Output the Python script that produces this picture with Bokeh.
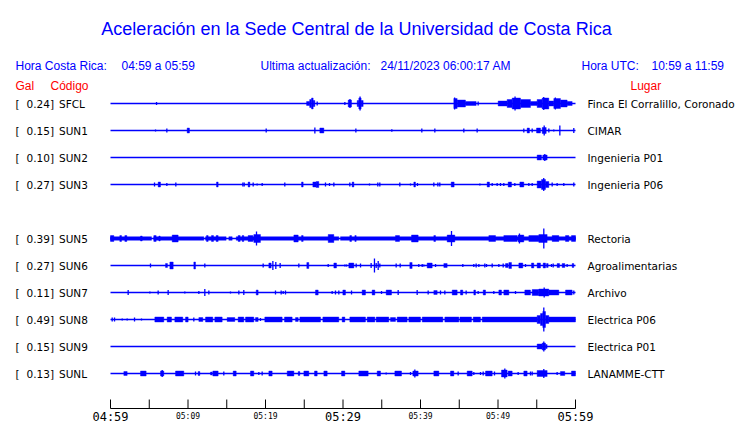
from bokeh.plotting import figure
from bokeh.models import Range1d
from bokeh.embed import file_html
from bokeh.resources import INLINE
from bokeh.core.properties import value

# ---------------- data ----------------
title_text = "Aceleración en la Sede Central de la Universidad de Costa Rica"
codes = ["SFCL", "SUN1", "SUN2", "SUN3", "SUN5", "SUN6", "SUN7", "SUN8", "SUN9", "SUNL"]
gal = [0.24, 0.15, 0.10, 0.27, 0.39, 0.27, 0.11, 0.49, 0.15, 0.13]
places = ["Finca El Corralillo, Coronado", "CIMAR", "Ingenieria P01", "Ingenieria P06",
          "Rectoria", "Agroalimentarias", "Archivo", "Electrica P06", "Electrica P01", "LANAMME-CTT"]

# time axis (minutes after 04:59 local time)
all_ticks = [0, 5, 10, 15, 20, 25, 30, 35, 40, 45, 50, 55, 60]
big_ticks = [0, 30, 60]
big_labels = ["04:59", "05:29", "05:59"]
small_ticks = [10, 20, 40, 50]
small_labels = ["05:09", "05:19", "05:39", "05:49"]

# bursts per station: (start minute, end minute, relative half amplitude); start==end -> spike
sfcl = [(5.94, 5.94, 1.5),
        (25.3, 25.7, 2), (25.7, 25.94, 4), (25.94, 26.15, 5.5), (26.15, 26.37, 3), (26.67, 26.67, 2),
        (30.24, 30.24, 1.5), (30.67, 31.1, 3.5), (30.9, 30.9, 4.5),
        (31.83, 32.04, 3), (32.04, 32.34, 5.5), (32.2, 32.2, 7), (32.34, 32.6, 3),
        (44.3, 44.73, 5), (44.4, 44.4, 6), (44.73, 45.8, 3.5), (45.8, 47.18, 2), (47.44, 47.44, 2),
        (50.02, 51.18, 2.5), (51.18, 51.83, 4), (51.83, 52.9, 5.5), (52.2, 52.2, 7), (52.9, 54.19, 4),
        (54.19, 55.05, 2), (55.05, 55.7, 4), (55.7, 56.56, 5.5), (55.9, 55.9, 6.5), (56.56, 57.2, 2.5),
        (57.2, 58.06, 5), (57.4, 57.4, 6), (58.06, 58.92, 3.5), (58.92, 59.57, 2)]
sun1 = [(5.81, 5.81, 1), (7.27, 7.27, 2), (9.89, 10.19, 2.5), (20.09, 20.09, 2), (26.37, 26.37, 3),
        (27.01, 27.53, 2.5), (31.66, 31.66, 2), (36.3, 36.3, 1.2), (40.17, 40.17, 2), (41.85, 41.85, 2),
        (45.59, 45.59, 2), (47.31, 47.31, 2), (53.33, 53.33, 2), (53.76, 54.06, 2.5), (54.41, 54.41, 2),
        (54.97, 55.48, 2.5), (55.7, 56.22, 3), (55.96, 55.96, 5), (56.56, 56.56, 2), (57.2, 57.2, 1),
        (57.98, 57.98, 5), (59.78, 59.78, 2.5)]
sun2 = [(55.05, 55.61, 2.5), (55.78, 56.34, 2.5), (56.04, 56.04, 3.5)]
sun3 = [(5.68, 5.68, 2), (6.15, 6.45, 2.5), (7.27, 7.27, 1.5), (8.43, 8.43, 2), (13.68, 13.89, 2.5),
        (17.08, 17.08, 2), (17.25, 17.25, 2), (17.76, 17.98, 2.5), (18.41, 18.41, 2), (18.92, 18.92, 1),
        (19.57, 19.57, 1.5), (22.49, 22.49, 2), (24.65, 24.86, 2.5), (26.11, 26.54, 2.5), (26.54, 26.88, 3),
        (27.74, 27.74, 2), (28.26, 28.26, 1.5), (28.82, 28.82, 2), (30.88, 30.88, 2), (31.18, 31.4, 2.5),
        (33.42, 33.42, 1), (34.49, 34.49, 2), (34.75, 34.75, 2), (37.33, 37.33, 2), (38.71, 38.71, 1),
        (39.14, 39.35, 2.5), (39.61, 39.61, 1.5), (41.72, 41.72, 2), (42.24, 42.24, 2), (42.49, 42.49, 2),
        (43.96, 44.34, 2.5), (47.66, 47.66, 1), (48.6, 48.9, 2.5), (49.25, 49.25, 1.5), (49.89, 49.89, 1.5),
        (50.32, 50.32, 1.5), (50.75, 50.75, 1.5), (51.31, 51.74, 2.5), (52.17, 52.17, 1.5), (52.82, 53.33, 2.5),
        (53.98, 53.98, 1.5), (54.41, 54.41, 1.5), (55.05, 55.61, 3.5), (55.61, 56.13, 5), (55.9, 55.9, 6.5),
        (56.13, 56.56, 3), (56.99, 56.99, 2), (57.63, 57.63, 1.5), (58.49, 58.49, 1.5), (59.78, 59.78, 2)]
sun5 = [(0, 5.29, 1.8), (5.59, 12.04, 1.8), (12.26, 14.92, 1.8), (15.27, 15.7, 1.8), (16.22, 29.46, 1.8),
        (29.68, 60, 1.8),
        (0, 0.43, 3), (1.2, 1.42, 3), (1.85, 2.11, 3), (3.87, 4.09, 2.5), (5.59, 5.89, 3), (6.24, 6.41, 2.5),
        (7.96, 8.73, 3.5), (12.39, 12.6, 3), (13.03, 13.29, 3), (13.63, 13.89, 3), (16.47, 16.73, 3),
        (16.99, 17.2, 3), (17.76, 18.37, 3), (18.49, 19.35, 4), (18.84, 18.84, 7), (23.66, 24.22, 3.5),
        (24.65, 24.86, 3), (28.09, 28.82, 4), (30.88, 31.1, 3), (31.53, 31.7, 3), (36.77, 37.29, 3),
        (38.84, 39.7, 3.5), (41.72, 41.94, 3), (43.44, 44.43, 3.5), (44.0, 44.0, 7.5), (48.82, 49.68, 3),
        (50.75, 52.47, 3), (52.6, 53.33, 3.5), (52.77, 52.77, 5), (53.98, 55.27, 3), (55.27, 56.34, 4),
        (55.91, 55.91, 10), (56.99, 57.85, 3), (58.71, 59.14, 3), (59.48, 60, 3)]
sun6 = [(5.16, 5.16, 2), (7.1, 7.35, 2), (7.66, 8.09, 3.5), (10.75, 10.97, 3.5), (12.17, 12.17, 2),
        (19.7, 19.7, 2), (20.43, 20.73, 2.5), (20.95, 20.95, 4.5), (21.33, 21.33, 3.5), (21.89, 21.89, 2.5),
        (24.3, 24.3, 2), (25.33, 25.59, 3), (28.09, 28.09, 1.5), (28.82, 29.16, 2.5), (30.24, 30.24, 1),
        (30.45, 30.45, 1), (30.75, 31.4, 2.5), (31.7, 31.7, 2), (32.26, 32.26, 2), (33.63, 33.63, 2.5),
        (34.06, 34.06, 7), (34.28, 34.28, 2.5), (34.54, 34.54, 4.5), (34.75, 34.75, 2), (36.86, 36.86, 2),
        (37.38, 37.38, 2), (38.62, 38.92, 3), (39.78, 39.78, 1.5), (40.22, 40.22, 1.5), (40.43, 40.43, 1),
        (40.86, 41.51, 2.5), (41.94, 41.94, 1.5), (43.01, 43.44, 2), (45.46, 45.46, 1.5), (46.88, 46.88, 1.5),
        (47.18, 47.18, 2), (47.53, 47.53, 1.5), (48.3, 48.3, 2), (48.52, 48.52, 1.5), (49.25, 49.25, 2),
        (50.11, 50.11, 1.5), (50.67, 50.67, 2), (50.97, 51.31, 2), (51.4, 51.74, 3), (52.69, 53.2, 2.5),
        (53.55, 53.55, 1.5), (54.32, 54.62, 2.5), (55.05, 55.48, 2.5), (55.83, 56.13, 2.5), (56.26, 56.47, 2),
        (56.9, 56.9, 1.5), (57.12, 57.12, 2), (57.63, 57.94, 2), (58.28, 58.62, 2), (58.92, 58.92, 1.5),
        (59.57, 59.78, 2)]
sun7 = [(2.28, 2.28, 2.5), (5.08, 5.08, 1), (6.15, 6.15, 2), (7.44, 7.44, 2.5), (9.59, 9.59, 1),
        (11.4, 11.4, 1.5), (12.17, 12.17, 3.5), (12.69, 12.69, 2), (15.48, 15.48, 1), (16.56, 16.56, 2),
        (17.2, 17.2, 2.5), (18.8, 19.05, 2.5), (21.29, 21.29, 2), (22.02, 22.02, 2), (22.28, 22.28, 1.5),
        (22.58, 22.58, 2), (26.45, 26.8, 2.5), (28.6, 28.6, 1.5), (29.03, 29.03, 2), (29.46, 29.46, 2),
        (29.98, 30.32, 2.5), (31.1, 31.1, 2), (32.47, 32.9, 2.5), (33.76, 34.11, 2.5), (34.97, 34.97, 1.5),
        (35.57, 36.26, 2.5), (37.12, 37.12, 2.5), (39.57, 39.57, 2.5), (40.99, 40.99, 2), (41.72, 42.15, 2),
        (42.58, 42.58, 2), (43.14, 43.14, 2), (44.09, 44.73, 2.5), (45.16, 45.46, 2.5), (45.89, 45.89, 2),
        (46.88, 47.1, 2.5), (47.44, 47.44, 1.5), (48.09, 48.39, 2.5), (49.46, 49.46, 1.5), (50.11, 50.45, 2.5),
        (50.75, 51.4, 2.5), (52.26, 52.26, 1.5), (53.46, 54.19, 2.5), (54.41, 55.27, 3), (55.27, 56.56, 3.5),
        (55.96, 55.96, 5), (56.56, 57.85, 2.5), (58.71, 59.57, 2.5), (59.78, 59.78, 2)]
sun8 = [(0.22, 0.22, 2), (0.52, 0.52, 2), (1.51, 1.51, 1), (2.15, 2.15, 1), (3.1, 3.1, 2), (4.0, 4.0, 1),
        (5.72, 6.88, 2.5), (7.31, 7.87, 2.5), (8.3, 9.33, 2.5), (9.68, 10.02, 2.5), (10.75, 10.75, 2),
        (11.4, 11.91, 2), (12.26, 13.2, 2.5), (13.46, 14.41, 2.5), (15.05, 16.04, 2), (16.47, 17.2, 2.5),
        (17.42, 18.49, 2.5), (18.71, 19.05, 2), (19.35, 19.35, 1.5), (19.91, 22.15, 2.5), (22.45, 23.44, 2.5),
        (23.87, 24.22, 2), (24.43, 27.1, 2.5), (27.4, 29.46, 2.5), (29.89, 30.24, 2.5), (30.88, 32.9, 2.5),
        (33.12, 34.11, 2.5), (34.28, 35.91, 2.5), (36.13, 36.77, 2), (36.99, 38.28, 2.5), (38.49, 40.0, 2.5),
        (40.22, 42.88, 2.5), (43.14, 44.95, 2.5), (45.08, 46.58, 2.5), (46.8, 47.74, 2.5), (47.96, 55.05, 2.5),
        (55.05, 55.48, 4), (55.48, 55.78, 6), (55.78, 56.13, 8), (55.91, 55.91, 12), (56.13, 56.56, 4),
        (56.56, 60, 2.5)]
sun9 = [(55.05, 55.7, 2.5), (55.7, 56.13, 3.5), (55.91, 55.91, 5), (56.13, 56.34, 2)]
sunl = [(1.72, 2.15, 2), (3.87, 4.6, 2.5), (6.45, 6.88, 2.5), (6.67, 6.67, 3.5), (8.39, 9.46, 2.5),
        (10.97, 10.97, 2), (11.31, 11.53, 2), (12.9, 13.12, 1.5), (13.2, 13.89, 2.5), (14.62, 14.62, 2),
        (15.83, 16.22, 2.5), (18.06, 18.49, 2.5), (19.14, 19.14, 1.5), (19.57, 19.57, 2), (20.43, 20.86, 2.5),
        (22.8, 23.66, 2.5), (24.22, 24.43, 2), (24.95, 25.59, 2.5), (26.32, 26.67, 2.5), (27.53, 27.96, 2.5),
        (29.81, 30.24, 2.5), (32.04, 33.25, 2.5), (34.41, 34.84, 2.5), (35.57, 35.57, 1), (36.69, 37.55, 2.5),
        (38.71, 38.71, 1.5), (39.01, 39.7, 2.5), (39.27, 39.27, 4), (41.72, 42.37, 2.5), (43.87, 44.3, 2.5),
        (44.86, 44.86, 2), (46.02, 46.67, 2.5), (46.88, 46.88, 1.5), (47.74, 47.74, 1.5), (48.09, 48.09, 2),
        (48.39, 49.25, 2.5), (49.55, 49.55, 2), (50.45, 51.18, 3.5), (50.88, 50.88, 5), (51.31, 51.83, 2.5),
        (52.6, 52.6, 1.5), (53.33, 53.76, 2.5), (54.19, 54.19, 2), (54.41, 54.41, 2), (55.05, 56.34, 3),
        (55.91, 55.91, 4.5), (57.63, 57.63, 1.5), (58.06, 58.62, 2), (59.48, 60, 2.5)]
events = [sfcl, sun1, sun2, sun3, sun5, sun6, sun7, sun8, sun9, sunl]

# ---------------- layout helpers ----------------
W, H = 740, 423
PXM = 7.75          # pixels per minute
ROW = 27            # pixels between traces
BLUE = "#0000FF"
RED = "#FF0000"


def xd(px):  # page pixel -> data x
    return (px - 110) / PXM


def yd(py):  # page pixel -> data y
    return 103 - py


p = figure(width=W, height=H, output_backend="svg", toolbar_location=None, tools="",
           x_range=Range1d(xd(0), xd(W)), y_range=Range1d(yd(H), yd(0)),
           x_axis_type=None, y_axis_type=None, min_border=0)
p.outline_line_color = None
p.background_fill_color = "white"
p.border_fill_color = "white"


def txt(x, y, s, size, color="black", font="Liberation Sans", align="left", baseline="alphabetic"):
    p.text(x=[x], y=[y], text=[s], text_font=value(font), text_font_size=size,
           text_color=color, text_align=align, text_baseline=baseline)


# title and headers
txt(xd(356), yd(28.5), title_text, "18px", BLUE, align="center")
for s, px in [("Hora Costa Rica:", 15), ("04:59 a 05:59", 121), ("Ultima actualización:", 260),
              ("24/11/2023 06:00:17 AM", 380), ("Hora UTC:", 581), ("10:59 a 11:59", 651)]:
    txt(xd(px), yd(65), s, "12px", BLUE)
for s, px in [("Gal", 15), ("Código", 50), ("Lugar", 630)]:
    txt(xd(px), yd(85), s, "12px", RED)

# traces
t_start, t_end = all_ticks[0], all_ticks[-1]
for i, (code, g, place, ev) in enumerate(zip(codes, gal, places, events)):
    slot = i if i < 4 else i + 1
    y = -ROW * slot
    p.line([t_start, t_end], [y, y], line_color=BLUE, line_width=1.3)
    blocks = [e for e in ev if e[1] > e[0]]
    spikes = [e for e in ev if e[1] == e[0]]
    if blocks:
        p.quad(left=[b[0] for b in blocks], right=[b[1] for b in blocks],
               top=[y + b[2] for b in blocks], bottom=[y - b[2] for b in blocks],
               fill_color=BLUE, line_color=BLUE, line_width=0.4)
    if spikes:
        p.segment(x0=[s[0] for s in spikes], x1=[s[0] for s in spikes],
                  y0=[y - s[2] for s in spikes], y1=[y + s[2] for s in spikes],
                  line_color=BLUE, line_width=1.3)
    txt(xd(15), y, "[", "10.5px", font="DejaVu Sans", baseline="middle")
    txt(xd(53.5), y, f"{g:.2f}]", "10.5px", font="DejaVu Sans", align="right", baseline="middle")
    txt(xd(58.5), y, code, "10.5px", font="DejaVu Sans", baseline="middle")
    txt(xd(587), y, place, "10.5px", font="DejaVu Sans", baseline="middle")

# time axis
ax_y = yd(408)
p.line([t_start, t_end], [ax_y, ax_y], line_color="black", line_width=1)
p.segment(x0=all_ticks, x1=all_ticks, y0=[ax_y] * len(all_ticks), y1=[ax_y + 9] * len(all_ticks),
          line_color="black", line_width=1)
p.text(x=big_ticks, y=[yd(416.5)] * 3, text=big_labels, text_font=value("DejaVu Sans Mono"),
       text_font_size="12px", text_align="center", text_baseline="alphabetic", text_color="black")
p.text(x=small_ticks, y=[yd(415.5)] * 4, text=small_labels, text_font=value("DejaVu Sans Mono"),
       text_font_size="8px", text_align="center", text_baseline="alphabetic", text_color="black")

open("out.html", "w").write(file_html(p, INLINE))
